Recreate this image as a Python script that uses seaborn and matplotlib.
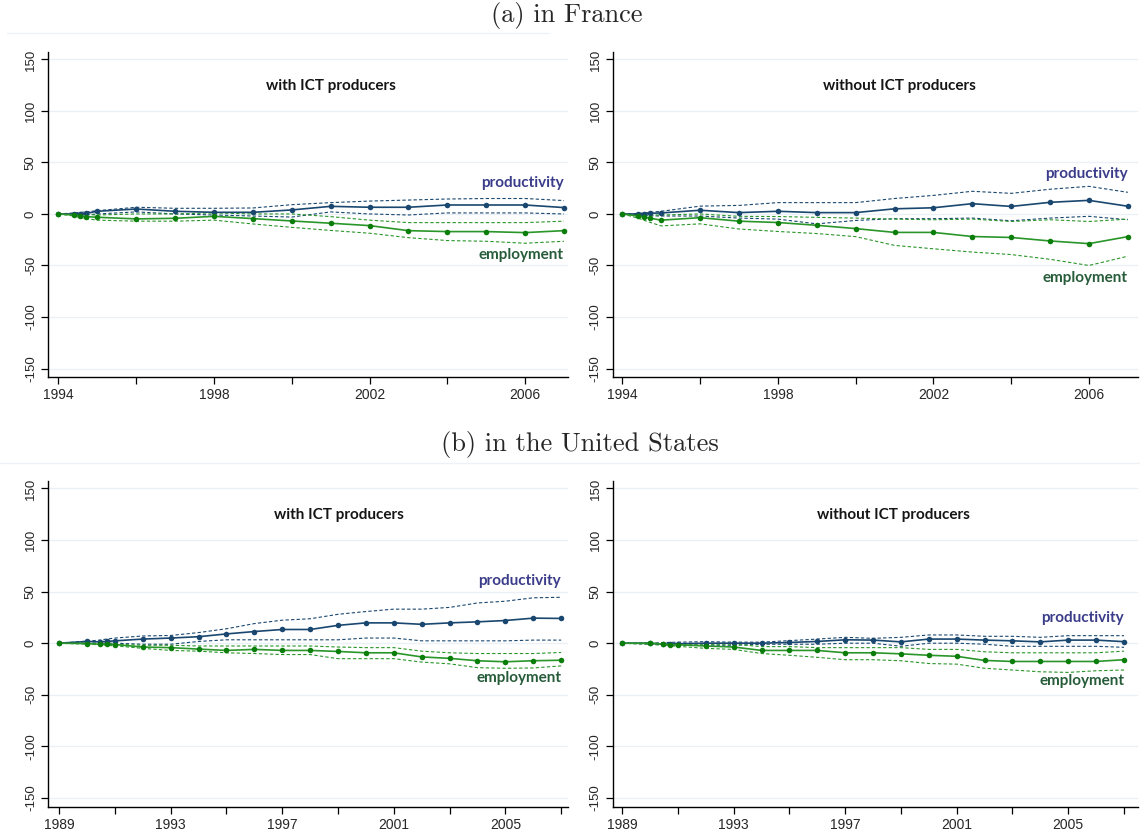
import matplotlib
matplotlib.use('Agg')
import matplotlib.pyplot as plt
import seaborn as sns

# %% data -------------------------------------------------------------

# France, 1994-2007 (a few sub-year observations in the first year)
fr_years = [1994, 1994.4, 1994.55, 1994.7, 1995, 1996, 1997, 1998, 1999, 2000,
            2001, 2002, 2003, 2004, 2005, 2006, 2007]

fr_with_prod    = [0, 0, 0, 0.5, 2.6, 4.8, 2.6, 1.6, 1.6, 3.9, 7.4, 6.5, 6.5, 8.7, 8.7, 8.7, 6.2]
fr_with_prod_hi = [0, 1, 1.5, 2, 3.2, 6.5, 5.5, 5.5, 5.8, 9, 11, 12.5, 13.5, 14.5, 15, 15, 13]
fr_with_prod_lo = [0, -1, -1, -1, 0, 2, 0, -1, -2, -3, 2, 0, -1, 1, 1, 1, 0]
fr_with_emp     = [0, -1, -2, -2.6, -3.2, -4.8, -4.2, -2.3, -4.5, -6.8, -9, -11.3, -16.2, -17.1, -17.1, -18.1, -16.2]
fr_with_emp_hi  = [0, 0, 0, -0.5, -1, 0, 0, 1, 0, 0, -2.6, -6, -8.4, -8.4, -8.4, -8.4, -7]
fr_with_emp_lo  = [0, -2, -3.5, -4.5, -6, -7, -7, -6, -9.7, -13, -16, -18.7, -23, -25.8, -26.5, -28.4, -26.5]

fr_wo_prod    = [0, 0, 0.3, 0.6, 1, 3.6, 1.3, 2.6, 1.3, 1.3, 5, 6, 10, 7.3, 11.3, 13.2, 7.5]
fr_wo_prod_hi = [0, 0.5, 1, 1.5, 2.6, 7.6, 8.3, 11, 11, 11, 15, 18, 22, 20, 24, 26.8, 21]
fr_wo_prod_lo = [0, -1, -1.5, -1.8, -2, -2, -4, -5, -9.6, -6.3, -4.6, -4.6, -4, -6.6, -4, -2.3, -5.6]
fr_wo_emp     = [0, -2, -3, -4, -6, -3.6, -7, -8.3, -11, -14.2, -17.9, -17.9, -21.9, -22.8, -26.2, -28.8, -22]
fr_wo_emp_hi  = [0, -0.5, -0.5, -1, -1, 0, -2.3, -2.5, -3.3, -4, -5, -5.6, -5, -7.3, -5.6, -7.3, -5]
fr_wo_emp_lo  = [0, -4, -6, -8, -11.6, -9.6, -14.6, -17, -19, -22, -30.5, -33.8, -37, -39.4, -44, -50, -41]

# United States, 1989-2007
us_years = [1989, 1990, 1990.45, 1990.7, 1991, 1992, 1993, 1994, 1995, 1996, 1997,
            1998, 1999, 2000, 2001, 2002, 2003, 2004, 2005, 2006, 2007]

us_with_prod    = [0, 1.7, 1.3, 1.7, 2.3, 4, 5, 6.3, 9, 11.3, 13.3, 13.3, 17.3, 19.7, 19.7, 18.3, 19.7, 20.7, 22, 24.3, 24]
us_with_prod_hi = [0, 2, 3, 4, 5, 7, 7.5, 10.3, 14, 19, 22.3, 23.7, 28, 30.7, 33, 33, 34.7, 39, 40.7, 44, 44.5]
us_with_prod_lo = [0, 0, 0, 0, 0, -1, -1, 1.7, 3.3, 3.3, 3.3, 3.3, 3.3, 5, 5, 2.3, 2.3, 2.3, 2.3, 3, 3]
us_with_emp     = [0, -0.3, -1, -1, -1.3, -3.7, -4.3, -5.7, -7, -6, -7, -7, -8, -9.3, -9.3, -13.3, -14.7, -17, -18, -17, -16.5]
us_with_emp_hi  = [0, 0, 0, -0.5, -1, -2, -2, -2.7, -2.7, -2.7, -2.7, -2.7, -3.7, -4.3, -4.3, -7.7, -9.3, -10, -10, -10, -9]
us_with_emp_lo  = [0, -1, -1.5, -2, -2.5, -5, -7, -7.7, -9.3, -10, -11, -11, -15, -15, -15, -18.3, -20, -23.7, -24.3, -24, -22]

us_wo_prod    = [0, 0, -1, -1, -0.5, 0, 0, 0, 0.7, 1.7, 3.3, 3, 1.3, 4, 4, 3, 2.3, 1.3, 3, 3, 1.5]
us_wo_prod_hi = [0, 0, 0.5, 0.8, 1, 1.5, 1, 1, 2.5, 4, 5.7, 4.7, 5.7, 8, 8, 6.7, 6.7, 5.7, 7.3, 7.3, 7.3]
us_wo_prod_lo = [0, -1, -1.5, -1.8, -2, -2, -2, -1, -1, -1, 0, 0, -3, 0, 0, -1, -3, -3, -3, -3, -4]
us_wo_emp     = [0, 0, -1, -1.5, -1.5, -2.7, -3.7, -7, -7, -7, -9.3, -9.3, -10.3, -11.7, -12.7, -16.7, -17.7, -17.7, -17.7, -17.7, -16]
us_wo_emp_hi  = [0, 0, 0, -0.5, -1, -1, -1, -3.3, -3.3, -4.3, -4.3, -4.3, -4.3, -6, -6, -8.3, -9.3, -9.3, -9.3, -9.3, -7.7]
us_wo_emp_lo  = [0, -1, -2, -2.5, -3, -5, -6, -10, -11.7, -13.7, -16, -16, -17, -19.7, -20.3, -24.3, -26, -27.7, -28.3, -26.7, -26]

y_ticks = [-150, -100, -50, 0, 50, 100, 150]
fr_xticks = [1994, 1996, 1998, 2000, 2002, 2004, 2006]
fr_xlabels = ['1994', '', '1998', '', '2002', '', '2006']
us_xticks = [1989, 1991, 1993, 1995, 1997, 1999, 2001, 2003, 2005, 2007]
us_xlabels = ['1989', '', '1993', '', '1997', '', '2001', '', '2005', '']

panel_titles = ['(a) in France', '(b) in the United States']
sub_titles = ['with ICT producers', 'without ICT producers']

# %% style ------------------------------------------------------------

sns.set_style('white')
plt.rcParams['font.family'] = ['Liberation Sans', 'DejaVu Sans']
plt.rcParams['axes.unicode_minus'] = False

navy = '#1a476f'
green = '#2a962a'
prod_txt = '#3b3d8a'
emp_txt = '#275c3a'

fig = plt.figure(figsize=(11.4, 8.36), dpi=100)


def draw_panel(rect, years, series, xlim, xticks, xlabels, title, title_x,
               prod_lab_y, emp_lab_y):
    ax = fig.add_axes(rect)
    prod, prod_hi, prod_lo, emp, emp_hi, emp_lo = series
    for vals, col in [(prod_hi, navy), (prod_lo, navy),
                      (emp_hi, green), (emp_lo, green)]:
        sns.lineplot(x=years, y=vals, ax=ax, color=col, lw=0.8,
                     dashes=False, linestyle=(0, (3, 2)))
    sns.lineplot(x=years, y=prod, ax=ax, color=navy, lw=1.2,
                 marker='o', markersize=4, markeredgewidth=0)
    sns.lineplot(x=years, y=emp, ax=ax, color=green, lw=1.2,
                 marker='o', markersize=4, markeredgewidth=0,
                 markerfacecolor='#0b7d0b')

    ax.set_xlim(*xlim)
    ax.set_ylim(-158.5, 157.5)
    ax.set_yticks(y_ticks)
    ax.set_yticklabels([str(t) for t in y_ticks], rotation=90, va='center',
                       fontsize=9.5)
    ax.set_xticks(xticks)
    ax.set_xticklabels(xlabels, fontsize=10)
    ax.tick_params(axis='both', direction='out', length=5, width=0.9,
                   color='black', pad=3)
    ax.tick_params(axis='y', left=True)
    ax.tick_params(axis='x', bottom=True)
    ax.yaxis.grid(True, color='#eaf0f5', lw=1)
    ax.xaxis.grid(False)
    for s in ['top', 'right']:
        ax.spines[s].set_visible(False)
    for s in ['left', 'bottom']:
        ax.spines[s].set_color('black')
        ax.spines[s].set_linewidth(1)

    ax.text(title_x, 0.895, title, transform=ax.transAxes, ha='center',
            va='center', fontsize=11, fontweight='bold', color='#151515',
            family=['Lato', 'DejaVu Sans'])
    ax.text(years[-1], prod_lab_y, 'productivity', ha='right', va='center',
            fontsize=11, fontweight='bold', color=prod_txt,
            family=['Lato', 'DejaVu Sans'])
    ax.text(years[-1], emp_lab_y, 'employment', ha='right', va='center',
            fontsize=11, fontweight='bold', color=emp_txt,
            family=['Lato', 'DejaVu Sans'])
    return ax


top_b, top_h = 0.5487, 0.3895
bot_b, bot_h = 0.035, 0.39
left_l, left_w = 0.0421, 0.456
right_l, right_w = 0.5377, 0.4605

draw_panel([left_l, top_b, left_w, top_h], fr_years,
           [fr_with_prod, fr_with_prod_hi, fr_with_prod_lo,
            fr_with_emp, fr_with_emp_hi, fr_with_emp_lo],
           (1993.73, 2007.1), fr_xticks, fr_xlabels, sub_titles[0], 0.545,
           30, -40)
draw_panel([right_l, top_b, right_w, top_h], fr_years,
           [fr_wo_prod, fr_wo_prod_hi, fr_wo_prod_lo,
            fr_wo_emp, fr_wo_emp_hi, fr_wo_emp_lo],
           (1993.76, 2007.26), fr_xticks, fr_xlabels, sub_titles[1], 0.545,
           39, -62)
draw_panel([left_l, bot_b, left_w, bot_h], us_years,
           [us_with_prod, us_with_prod_hi, us_with_prod_lo,
            us_with_emp, us_with_emp_hi, us_with_emp_lo],
           (1988.6, 2007.24), us_xticks, us_xlabels, sub_titles[0], 0.56,
           60, -34)
draw_panel([right_l, bot_b, right_w, bot_h], us_years,
           [us_wo_prod, us_wo_prod_hi, us_wo_prod_lo,
            us_wo_emp, us_wo_emp_hi, us_wo_emp_lo],
           (1988.67, 2007.5), us_xticks, us_xlabels, sub_titles[1], 0.535,
           24, -37)

# panel captions and the faint rules under them
fig.text(0.497, 0.982, panel_titles[0], ha='center', va='center',
         fontsize=19, family=['cmr10', 'DejaVu Serif'])
fig.text(0.509, 0.468, panel_titles[1], ha='center', va='center',
         fontsize=19, family=['cmr10', 'DejaVu Serif'])
fig.add_artist(plt.Line2D([0.006, 0.482], [0.961, 0.961], color='#eef2f7', lw=1))
fig.add_artist(plt.Line2D([0.0, 1.0], [0.446, 0.446], color='#eef2f7', lw=1))

fig.savefig('out.png', dpi=100, facecolor='white')
